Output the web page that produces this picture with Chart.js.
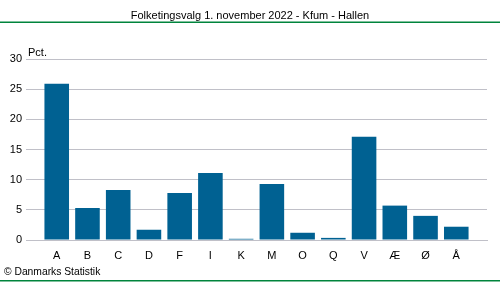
<!DOCTYPE html>
<html>
<head>
<meta charset="utf-8">
<script src="https://cdn.jsdelivr.net/npm/chart.js@4/dist/chart.umd.min.js"></script>
<style>
html,body{margin:0;padding:0;background:#fff;}
#wrap{width:500px;height:282px;position:relative;}
</style>
</head>
<body>
<div id="wrap"><canvas id="c" width="500" height="282"></canvas></div>
<script>
const titleText = "Folketingsvalg 1. november 2022 - Kfum - Hallen";
const unitLabel = "Pct.";
const sourceText = "© Danmarks Statistik";
const categories = ["A","B","C","D","F","I","K","M","O","Q","V","Æ","Ø","Å"];
const values = [25.9, 5.3, 8.3, 1.7, 7.8, 11.1, 0.2, 9.3, 1.2, 0.35, 17.1, 5.7, 4.0, 2.2];
const yTicks = [0, 5, 10, 15, 20, 25, 30];

// pad a blank slot on each side so the grid runs past the outer bars
const labels = [""].concat(categories, [""]);
const data = [null].concat(values, [null]);

const FONT = "'Liberation Sans', Arial, sans-serif";

const decor = {
  id: 'decor',
  afterDraw(chart) {
    const ctx = chart.ctx;
    ctx.save();
    ctx.fillStyle = '#000';
    ctx.font = "11px " + FONT;
    ctx.textAlign = 'center';
    ctx.textBaseline = 'alphabetic';
    ctx.fillText(titleText, 250, 19);
    ctx.fillStyle = '#00843c';
    ctx.fillRect(0, 21.5, 500, 1.5);
    ctx.fillRect(0, 280, 500, 1.5);
    ctx.fillStyle = '#000';
    ctx.font = "11px " + FONT;
    ctx.textAlign = 'left';
    ctx.fillText(unitLabel, 28, 56);
    ctx.font = "10.3px " + FONT;
    ctx.fillText(sourceText, 4, 275);
    ctx.restore();
  }
};

new Chart(document.getElementById('c'), {
  type: 'bar',
  data: {
    labels: labels,
    datasets: [{
      data: data,
      backgroundColor: '#006192',
      borderWidth: 0,
      categoryPercentage: 1,
      barPercentage: 0.8
    }]
  },
  options: {
    responsive: false,
    animation: false,
    events: [],
    layout: { padding: { top: 59, right: 13, left: 0, bottom: 0 } },
    plugins: { legend: { display: false }, tooltip: { enabled: false } },
    scales: {
      x: {
        offset: false,
        grid: { display: false, drawTicks: false },
        border: { display: true, color: '#c0c0c8', width: 1 },
        ticks: { color: '#000', font: { family: FONT, size: 11 }, padding: 9, maxRotation: 0, autoSkip: false },
        afterFit(s) { s.height = 42; }
      },
      y: {
        min: 0, max: 30,
        afterBuildTicks(s) { s.ticks = yTicks.map(v => ({ value: v })); },
        grid: { color: '#c0c0c8', lineWidth: 1, drawTicks: false },
        border: { display: false },
        ticks: { color: '#000', font: { family: FONT, size: 11 }, padding: 4 },
        afterFit(s) { s.width = 26; }
      }
    }
  },
  plugins: [decor]
});
</script>
</body>
</html>
